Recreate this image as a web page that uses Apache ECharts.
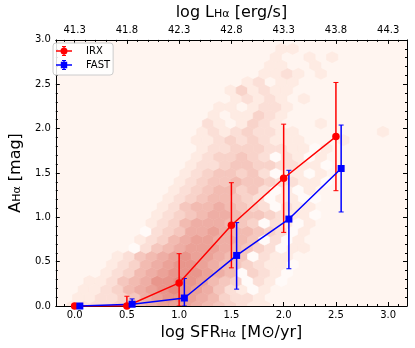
<!DOCTYPE html>
<html>
<head>
<meta charset="utf-8">
<script src="https://cdn.jsdelivr.net/npm/echarts@6/dist/echarts.min.js"></script>
<style>
html, body { margin: 0; padding: 0; background: #fff; }
#chart { width: 415px; height: 348px; }
</style>
</head>
<body>
<div id="chart"></div>
<script>
// axis ticks
const sfrTicks = [0, 0.5, 1, 1.5, 2, 2.5, 3];
const lhaTickLabels = ["41.3", "41.8", "42.3", "42.8", "43.3", "43.8", "44.3"];

// binned medians with error bars
const sfrIrx = [0.0, 0.5, 1.0, 1.5, 2.0, 2.5];
const aIrx = [0.0, 0.0, 0.26, 0.91, 1.44, 1.91];
const aIrxLow = [0.0, 0.0, 0.0, 0.43, 0.83, 1.30];
const aIrxHigh = [0.0, 0.11, 0.59, 1.39, 2.05, 2.52];

const sfrFast = [0.05, 0.55, 1.05, 1.55, 2.05, 2.55];
const aFast = [0.0, 0.02, 0.09, 0.57, 0.98, 1.55];
const aFastLow = [0.0, 0.0, 0.0, 0.19, 0.42, 1.06];
const aFastHigh = [0.0, 0.08, 0.31, 0.94, 1.53, 2.04];

// hexbin counts (level 0-9), one string per hex row from the bottom, '.' = empty
const hexRows = [
  "122234567776543211",
  "11223467887653221",
  ".11235678987642101",
  ".112456889875430210",
  "...12356788876503210",
  "...12356788765432110",
  "....1245678776540211",
  ".....0245677765432011",
  "......123567766540201",
  "......023466765543201",
  ".......123566654302101",
  ".......123456654432110",
  "........12455654320211",
  "........12345543201100",
  ".........1234553420101",
  ".........12344544322110",
  "..........1234434201101",
  "..........1223443322110",
  "...........123343202101",
  "...........122333221101",
  "...........1123232111...1",
  "...........121232211.......1",
  "............21.1321...1",
  "............1.11321",
  ".............11.1221",
  "..............12121.1",
  "..............131211",
  "...............12.11",
  ".................1121.1",
  ".................11..1",
  "..................1..1.1",
  "..................11"
];

// hex lattice
const hexX0 = -0.02;
const hexDx = 0.108;
const hexDy = 0.0935;

const xMin = -0.18, xMax = 3.18;
const font = "DejaVu Sans";

const sfrMinorTicks = [];
for (let k = -1; k <= 31; k++) if (k % 5 !== 0) sfrMinorTicks.push(k / 10);

const hexData = [];
hexRows.forEach((row, j) => {
  for (let i = 0; i < row.length; i++) {
    if (row[i] === ".") continue;
    hexData.push([hexX0 + i * hexDx + (j % 2 ? hexDx / 2 : 0), j * hexDy, +row[i]]);
  }
});

function hexColor(level) {
  if (level === 0) return "#fffaf8";
  const a = [254, 235, 227], b = [229, 138, 127];
  const t = (level - 1) / 8;
  const c = a.map((v, k) => Math.round(v + (b[k] - v) * t));
  return "rgb(" + c.join(",") + ")";
}

function renderHex(params, api) {
  const x = api.value(0), y = api.value(1);
  const pts = [
    [x, y + 2 * hexDy / 3], [x + hexDx / 2, y + hexDy / 3], [x + hexDx / 2, y - hexDy / 3],
    [x, y - 2 * hexDy / 3], [x - hexDx / 2, y - hexDy / 3], [x - hexDx / 2, y + hexDy / 3]
  ].map((p) => api.coord(p));
  const c = hexColor(api.value(2));
  return { type: "polygon", shape: { points: pts }, style: { fill: c, stroke: c, lineWidth: 0.6 } };
}

function errRenderer(color) {
  return function (params, api) {
    const x = api.value(0);
    if (api.value(2) === api.value(1)) return null;
    const lo = api.coord([x, api.value(1)]);
    const hi = api.coord([x, api.value(2)]);
    const cap = 2.5;
    return {
      type: "group",
      children: [
        { type: "line", shape: { x1: lo[0], y1: lo[1], x2: hi[0], y2: hi[1] }, style: { stroke: color, lineWidth: 1.5 } },
        { type: "line", shape: { x1: lo[0] - cap, y1: lo[1], x2: lo[0] + cap, y2: lo[1] }, style: { stroke: color, lineWidth: 1 } },
        { type: "line", shape: { x1: hi[0] - cap, y1: hi[1], x2: hi[0] + cap, y2: hi[1] }, style: { stroke: color, lineWidth: 1 } }
      ]
    };
  };
}

const zip = (a, b) => a.map((v, i) => [v, b[i]]);
const zip3 = (a, b, c) => a.map((v, i) => [v, b[i], c[i]]);

const nameRich = {
  n: { fontSize: 16, fontFamily: font, color: "#000", verticalAlign: "top" },
  s: { fontSize: 11, fontFamily: font, color: "#000", verticalAlign: "top", padding: [4, 0, 0, 0] }
};

const axisLine = { show: true, onZero: false, lineStyle: { color: "#000", width: 1 } };
const tickStyle = { color: "#000", width: 1 };
const labelStyle = { fontSize: 10, fontFamily: font, color: "#000" };

const irxIcon = "path://M0,4.3H16V5.7H0Z M7.3,0H8.7V10H7.3Z M6,0H10V1H6Z M6,9H10V10H6Z M8,1.5A3.5,3.5 0 1 1 8,8.5A3.5,3.5 0 1 1 8,1.5Z";
const fastIcon = "path://M0,4.3H16V5.7H0Z M7.3,0H8.7V10H7.3Z M6,0H10V1H6Z M6,9H10V10H6Z M4.8,1.8H11.2V8.2H4.8Z";

const chart = echarts.init(document.getElementById("chart"));
chart.setOption({
  animation: false,
  grid: { left: 49, right: 8, top: 37, bottom: 42, show: true, backgroundColor: "#fff5f0", borderWidth: 0 },
  legend: {
    orient: "vertical",
    left: 53,
    top: 43,
    padding: [3, 3, 5, 3],
    itemGap: 4,
    itemWidth: 16,
    itemHeight: 10,
    backgroundColor: "rgba(255,255,255,0.85)",
    borderColor: "#cccccc",
    borderWidth: 1,
    borderRadius: 3,
    textStyle: { fontSize: 10, fontFamily: font, color: "#000", padding: [0, 0, 0, 9] },
    data: [
      { name: "IRX", icon: irxIcon },
      { name: "FAST", icon: fastIcon }
    ]
  },
  xAxis: [
    {
      type: "value", min: xMin, max: xMax, position: "bottom",
      splitLine: { show: false }, axisLine: axisLine,
      axisTick: { show: true, inside: true, length: 4, customValues: sfrTicks, lineStyle: tickStyle },
      axisLabel: Object.assign({ customValues: sfrTicks, margin: 4, formatter: (v) => v.toFixed(1) }, labelStyle),
      name: "{n|log SFR}{s|Hα}{n| [M⊙/yr]}",
      nameLocation: "middle", nameGap: 16,
      nameTextStyle: { rich: nameRich }
    },
    {
      type: "value", min: xMin, max: xMax, position: "bottom",
      splitLine: { show: false }, axisLine: { show: false, onZero: false },
      axisTick: { show: true, inside: true, length: 2, customValues: sfrMinorTicks, lineStyle: tickStyle },
      axisLabel: { show: false }
    },
    {
      type: "value", min: xMin, max: xMax, position: "top",
      splitLine: { show: false }, axisLine: axisLine,
      axisTick: { show: true, inside: true, length: 4, customValues: sfrTicks, lineStyle: tickStyle },
      axisLabel: Object.assign({
        customValues: sfrTicks, margin: 4,
        formatter: (v) => lhaTickLabels[sfrTicks.findIndex((t) => Math.abs(t - v) < 1e-6)]
      }, labelStyle),
      name: "{n|log L}{s|Hα}{n| [erg/s]}",
      nameLocation: "middle", nameGap: 15,
      nameTextStyle: { rich: nameRich }
    },
    {
      type: "value", min: xMin, max: xMax, position: "top",
      splitLine: { show: false }, axisLine: { show: false, onZero: false },
      axisTick: { show: true, inside: true, length: 2, customValues: sfrMinorTicks, lineStyle: tickStyle },
      axisLabel: { show: false }
    }
  ],
  yAxis: [
    {
      type: "value", min: 0, max: 3, interval: 0.5, position: "left",
      splitLine: { show: false }, axisLine: axisLine,
      axisTick: { show: true, inside: true, length: 4, lineStyle: tickStyle },
      minorTick: { show: true, splitNumber: 5, length: 2, lineStyle: tickStyle },
      axisLabel: Object.assign({ margin: 5, formatter: (v) => v.toFixed(1) }, labelStyle),
      name: "{n|A}{s|Hα}{n| [mag]}",
      nameLocation: "middle", nameGap: 26, nameRotate: 90,
      nameTextStyle: { rich: nameRich }
    },
    {
      type: "value", min: 0, max: 3, interval: 0.5, position: "right",
      splitLine: { show: false }, axisLine: axisLine,
      axisTick: { show: true, inside: true, length: 4, lineStyle: tickStyle },
      minorTick: { show: true, splitNumber: 5, length: 2, lineStyle: tickStyle },
      axisLabel: { show: false }
    }
  ],
  series: [
    {
      name: "hexbin", type: "custom", xAxisIndex: 0, yAxisIndex: 0, clip: true,
      renderItem: renderHex, encode: { x: 0, y: 1 }, data: hexData, silent: true
    },
    {
      name: "IRX err", type: "custom", xAxisIndex: 0, yAxisIndex: 0, clip: true,
      renderItem: errRenderer("#ff0000"), encode: { x: 0, y: [1, 2] },
      data: zip3(sfrIrx, aIrxLow, aIrxHigh)
    },
    {
      name: "IRX", type: "line", xAxisIndex: 0, yAxisIndex: 0,
      data: zip(sfrIrx, aIrx), symbol: "circle", symbolSize: 7.5,
      itemStyle: { color: "#ff0000" }, lineStyle: { color: "#ff0000", width: 1.5 }
    },
    {
      name: "FAST err", type: "custom", xAxisIndex: 0, yAxisIndex: 0, clip: true,
      renderItem: errRenderer("#0000ff"), encode: { x: 0, y: [1, 2] },
      data: zip3(sfrFast, aFastLow, aFastHigh)
    },
    {
      name: "FAST", type: "line", xAxisIndex: 0, yAxisIndex: 0,
      data: zip(sfrFast, aFast), symbol: "rect", symbolSize: 7,
      itemStyle: { color: "#0000ff" }, lineStyle: { color: "#0000ff", width: 1.5 }
    }
  ]
});
</script>
</body>
</html>
